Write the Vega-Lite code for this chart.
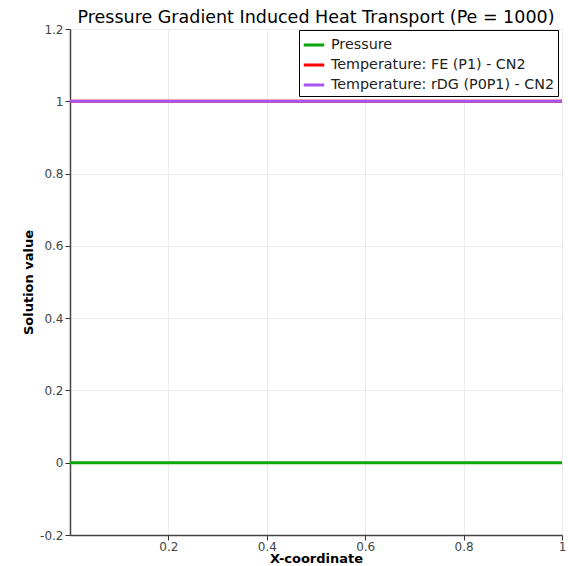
{
  "$schema": "https://vega.github.io/schema/vega-lite/v6.json",
  "width": 492,
  "height": 506,
  "autosize": {"type": "none"},
  "padding": {"left": 70, "top": 29, "right": 6, "bottom": 31},
  "background": "white",
  "config": {
    "view": {"stroke": null},
    "font": "DejaVu Sans"
  },
  "title": {
    "text": "Pressure Gradient Induced Heat Transport (Pe = 1000)",
    "font": "DejaVu Sans",
    "fontSize": 17.5,
    "fontWeight": "normal",
    "color": "#000000",
    "anchor": "middle",
    "offset": -3
  },
  "data": {
    "values": [
      {"x": 0, "y": 0, "series": "Pressure"},
      {"x": 0.5, "y": 0, "series": "Pressure"},
      {"x": 1, "y": 0, "series": "Pressure"},
      {"x": 0, "y": 1, "series": "Temperature: FE (P1) - CN2"},
      {"x": 0.5, "y": 1, "series": "Temperature: FE (P1) - CN2"},
      {"x": 1, "y": 1, "series": "Temperature: FE (P1) - CN2"},
      {"x": 0, "y": 1, "series": "Temperature: rDG (P0P1) - CN2"},
      {"x": 0.5, "y": 1, "series": "Temperature: rDG (P0P1) - CN2"},
      {"x": 1, "y": 1, "series": "Temperature: rDG (P0P1) - CN2"}
    ]
  },
  "mark": {"type": "line", "strokeWidth": 3, "clip": false},
  "encoding": {
    "x": {
      "field": "x",
      "type": "quantitative",
      "scale": {"domain": [0, 1], "nice": false, "zero": false},
      "axis": {
        "title": "X-coordinate",
        "titleFontSize": 13,
        "titleFontWeight": "bold",
        "titleColor": "#000000",
        "titlePadding": 0,
        "values": [0.2, 0.4, 0.6, 0.8, 1],
        "format": "~g",
        "labelFontSize": 12,
        "labelColor": "#444444",
        "labelPadding": 1,
        "labelFlush": false,
        "labelOverlap": false,
        "tickSize": 5,
        "tickColor": "#333333",
        "domainColor": "#444444",
        "domainWidth": 1.5,
        "grid": true,
        "gridColor": "#ececec",
        "gridWidth": 1
      }
    },
    "y": {
      "field": "y",
      "type": "quantitative",
      "scale": {"domain": [-0.2, 1.2], "nice": false, "zero": false},
      "axis": {
        "title": "Solution value",
        "titleFontSize": 13,
        "titleFontWeight": "bold",
        "titleColor": "#000000",
        "titlePadding": 4,
        "values": [-0.2, 0, 0.2, 0.4, 0.6, 0.8, 1, 1.2],
        "format": "~g",
        "labelExpr": "datum.value < 0 ? '-0.2' : datum.label",
        "labelFontSize": 12,
        "labelColor": "#444444",
        "labelPadding": 2,
        "labelFlush": false,
        "labelOverlap": false,
        "tickSize": 5,
        "tickColor": "#333333",
        "domainColor": "#444444",
        "domainWidth": 1.5,
        "grid": true,
        "gridColor": "#ececec",
        "gridWidth": 1
      }
    },
    "color": {
      "field": "series",
      "type": "nominal",
      "scale": {
        "domain": ["Pressure", "Temperature: FE (P1) - CN2", "Temperature: rDG (P0P1) - CN2"],
        "range": ["#0aa50a", "#ff0000", "#a855f0"]
      },
      "legend": {
        "title": null,
        "orient": "none",
        "legendX": 229,
        "legendY": 1,
        "fillColor": "white",
        "strokeColor": "#000000",
        "padding": 3,
        "symbolType": "stroke",
        "symbolStrokeWidth": 3,
        "symbolSize": 420,
        "labelFontSize": 14.3,
        "labelLimit": 400,
        "labelColor": "#222222",
        "labelOffset": 5,
        "rowPadding": 0
      }
    },
    "order": {"field": "series"}
  }
}
